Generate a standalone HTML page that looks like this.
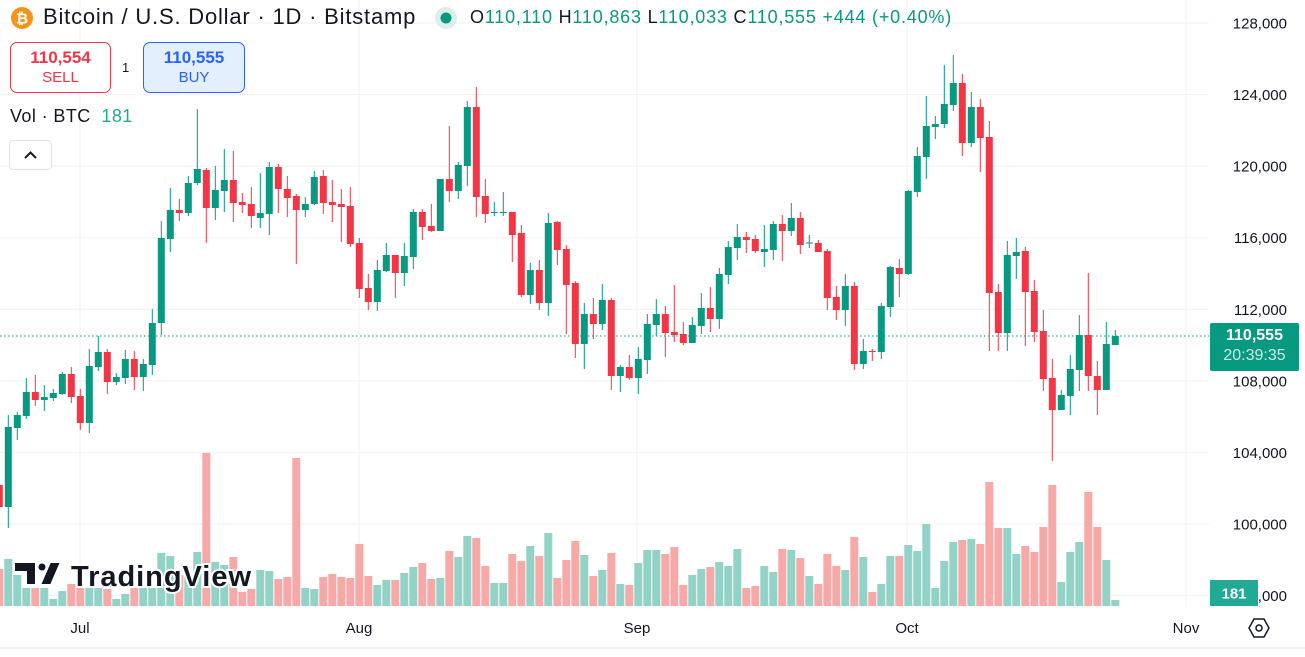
<!DOCTYPE html>
<html><head><meta charset="utf-8"><style>
html,body{margin:0;padding:0;background:#fff;width:1305px;height:657px;overflow:hidden;font-family:"Liberation Sans",sans-serif}
svg{position:absolute;left:0;top:0}
.hdr{position:absolute;white-space:nowrap;color:#131722}
</style></head><body>
<svg id="c" width="1305" height="657" xmlns="http://www.w3.org/2000/svg"></svg>

<div class="hdr" style="left:43px;top:4px;font-size:22px;letter-spacing:0.8px">Bitcoin / U.S. Dollar · 1D · Bitstamp</div>
<div class="hdr" style="left:470px;top:7px;font-size:18px;letter-spacing:0.8px">O<span style="color:#089981">110,110</span> H<span style="color:#089981">110,863</span> L<span style="color:#089981">110,033</span> C<span style="color:#089981">110,555</span> <span style="color:#089981">+444 (+0.40%)</span></div>

<div style="position:absolute;left:10px;top:42px;width:99px;height:49px;border:1px solid #f23645;border-radius:7px;background:#fff;text-align:center;color:#f23645;font-weight:bold;">
<div style="font-size:17px;margin-top:5px">110,554</div><div style="font-size:15px;margin-top:1px;font-weight:normal">SELL</div></div>
<div class="hdr" style="left:122px;top:60px;font-size:13px">1</div>
<div style="position:absolute;left:143px;top:42px;width:100px;height:49px;border:1px solid #2962ff;border-radius:7px;background:#e3effd;text-align:center;color:#2962ff;font-weight:bold;">
<div style="font-size:17px;margin-top:5px">110,555</div><div style="font-size:15px;margin-top:1px;font-weight:normal">BUY</div></div>

<div class="hdr" style="left:10px;top:106px;font-size:18px;letter-spacing:0.4px">Vol · BTC &nbsp;<span style="color:#22ab94">181</span></div>
<div style="position:absolute;left:9px;top:140px;width:41px;height:28px;border:1px solid #e0e3eb;border-radius:4px;background:#fff">
<svg width="41" height="28" style="position:absolute;left:0;top:0"><polyline points="15,17 20.5,11.5 26,17" fill="none" stroke="#131722" stroke-width="2"/></svg></div>

<div style="position:absolute;left:1210px;top:323px;width:89px;height:48px;background:#089981;border-radius:2px;color:#fff;text-align:center;font-size:16px;line-height:20px;padding-top:3px;box-sizing:border-box">
<div style="font-weight:bold">110,555</div><div style="color:#cdeee8">20:39:35</div></div>

<script>
var C=[[485,507,485,507],[507,427,415,528],[428,415,412,440],[416,392,378,419],[392,400,375,406],[400,397,385,411],[398,393,389,401],[394,374,372,395],[374,397,367,403],[396,423,389,430],
[423,366,349,433],[367,352,336,371],[352,382,349,394],[382,377,373,385],[378,359,350,384],[359,377,351,390],[377,364,359,391],[365,323,309,375],[323,238,221,335],[239,210,188,252],
[210,213,199,221],[213,183,176,216],[183,169,109,185],[170,208,168,243],[208,190,166,220],[191,180,149,212],[180,203,151,222],[202,205,193,213],[204,216,187,228],[218,213,173,228],
[214,167,162,235],[167,189,164,213],[189,198,176,217],[196,210,194,264],[210,204,197,217],[204,177,171,205],[176,203,170,214],[202,205,180,222],[204,207,189,242],[206,244,187,247],
[243,289,238,298],[288,302,274,310],[302,270,260,311],[271,255,243,272],[255,273,255,298],[273,256,243,286],[257,212,209,269],[212,227,209,240],[226,231,204,232],[231,179,179,231],
[179,191,126,202],[191,165,162,199],[166,107,101,186],[107,197,87,217],[196,214,179,223],[213,212,202,216],[213,212,192,216],[212,235,212,262],[233,295,225,297],[295,270,263,304],
[270,303,260,310],[303,223,213,316],[222,250,221,265],[249,285,245,334],[283,344,281,358],[344,314,303,369],[314,324,298,339],[324,300,284,330],[300,376,298,390],[376,367,365,392],
[367,378,355,380],[378,359,347,394],[360,324,314,374],[325,314,299,336],[314,333,306,357],[332,335,285,342],[334,343,322,345],[343,325,317,343],[326,308,293,334],[308,319,287,332],
[319,274,268,329],[275,247,241,284],[248,237,224,260],[237,240,232,253],[239,251,235,253],[252,249,225,267],[250,224,221,260],[224,231,215,261],[231,218,203,236],[218,245,212,254],
[243.5,242.5,235,248],[243,252,240,252],[251,298,249,310],[297,310,286,320],[310,286,274,326],[286,364,282,370],[364,351,339,369],[351,352,349,361],[352,306,303,359],[307,267,266,317],
[268,274,259,297],[274,191,190,275],[192,156,147,197],[157,126,96,179],[127,124,116,139],[124,104,65,128],[105,83,55,111],[83,143,74,156],[143,107,92,147],[107,138,99,172],
[137,293,121,351],[292,333,284,351],[333,255,241,351],[256,252,238,279],[251,292,247,346],[291,332,280,342],[331,379,310,391],[378,410,359,461],[410,395,390,410],[396,369,355,415],
[370,335,315,391],[335,376,273,391],[376,390,361,415],[390,344,322,390],[345,336,330,345]];
var V=[569,559,575,588,588,588,599,591,584,588,588,588,589,599,594,588,588,588,553,556,575,575,552,453,562,565,557,592,589,570,571,579,577,458,588,589,577,574,577,578,544,576,585,580,580,573,567,563,579,578,551,557,536,538,566,583,583,554,561,546,556,533,578,560,541,555,576,570,553,584,585,563,550,550,554,547,585,575,569,567,562,566,549,588,586,566,572,549,550,558,576,584,554,566,570,537,557,592,584,556,556,545,551,524,588,561,542,540,539,544,482,528,528,554,546,552,527,485,582,552,542,492,527,560,600];
var s='';
var gy=[23,94.6,166.1,237.7,309.3,380.9,452.4,524,595.6];
gy.forEach(function(y){s+='<line x1="0" x2="1209" y1="'+y+'" y2="'+y+'" stroke="#f0f2f5" stroke-width="1"/>';});
[80,359,637,907,1186].forEach(function(x){s+='<line x1="'+x+'" x2="'+x+'" y1="0" y2="607" stroke="#f0f2f5" stroke-width="1"/>';});
for(var i=0;i<V.length;i++){var x=-0.7+9*i;var c=C[i];var g=c[1]<c[0];
s+='<rect x="'+(x-4)+'" y="'+V[i]+'" width="8" height="'+(606-V[i])+'" fill="'+(g?'#92d2c7':'#f7a9a7')+'"/>';}
s+='<g><path d="M14 562 H36 V585 H26 V572 H14 Z" fill="#131722" stroke="#fff" stroke-width="2"/><circle cx="42" cy="567" r="4.5" fill="#131722" stroke="#fff" stroke-width="2"/><path d="M50 562 H61 L51 585 H40 Z" fill="#131722" stroke="#fff" stroke-width="2"/>';
s+='<text x="71" y="586" font-family="Liberation Sans, sans-serif" font-weight="bold" font-size="29" textLength="180" fill="#131722" stroke="#fff" stroke-width="4" paint-order="stroke">TradingView</text></g>';
s+='<line x1="0" x2="1209" y1="336" y2="336" stroke="#089981" stroke-width="1" stroke-dasharray="1.5 2.5"/>';
for(var i=0;i<C.length;i++){var x=-0.7+9*i;var c=C[i];var g=c[1]<c[0];var col=g?'#089981':'#f23645';
var t=Math.min(c[0],c[1]),b=Math.max(c[0],c[1]);if(b-t<1){b=t+1.2;}
s+='<rect x="'+(x-0.5)+'" y="'+c[2]+'" width="1" height="'+(c[3]-c[2])+'" fill="'+col+'"/>';
s+='<rect x="'+(x-3.5)+'" y="'+t+'" width="7" height="'+(b-t)+'" fill="'+col+'"/>';}
s+='<line x1="0" x2="1305" y1="648" y2="648" stroke="#e0e3eb"/>';
var lab=['128,000','124,000','120,000','116,000','112,000','108,000','104,000','100,000','96,000'];
for(var k=0;k<9;k++){s+='<text x="1287" y="'+(gy[k]+5.5)+'" text-anchor="end" font-size="15" font-family="Liberation Sans, sans-serif" fill="#131722">'+lab[k]+'</text>';}
s+='<rect x="1210" y="580" width="48" height="26" fill="#22ab94"/><text x="1234" y="598.5" text-anchor="middle" font-size="15" font-weight="bold" font-family="Liberation Sans, sans-serif" fill="#fff">181</text>';
[['Jul',80],['Aug',359],['Sep',637],['Oct',907],['Nov',1186]].forEach(function(m){s+='<text x="'+m[1]+'" y="633" text-anchor="middle" font-size="15" font-family="Liberation Sans, sans-serif" fill="#131722">'+m[0]+'</text>';});
s+='<polygon points="1254,619 1264,619 1269,628 1264,637 1254,637 1249,628" fill="none" stroke="#131722" stroke-width="1.5"/><circle cx="1259" cy="628" r="3" fill="none" stroke="#131722" stroke-width="1.5"/>';
s+='<circle cx="22" cy="18" r="11" fill="#f7931a"/><text x="22" y="23.5" text-anchor="middle" font-size="15" font-weight="bold" fill="#fff" font-family="Liberation Sans, sans-serif">₿</text>';
s+='<circle cx="446" cy="18" r="11" fill="#dcefeb"/><circle cx="446" cy="18" r="5.5" fill="#089981"/>';
document.getElementById('c').innerHTML=s;
</script>
</body></html>
